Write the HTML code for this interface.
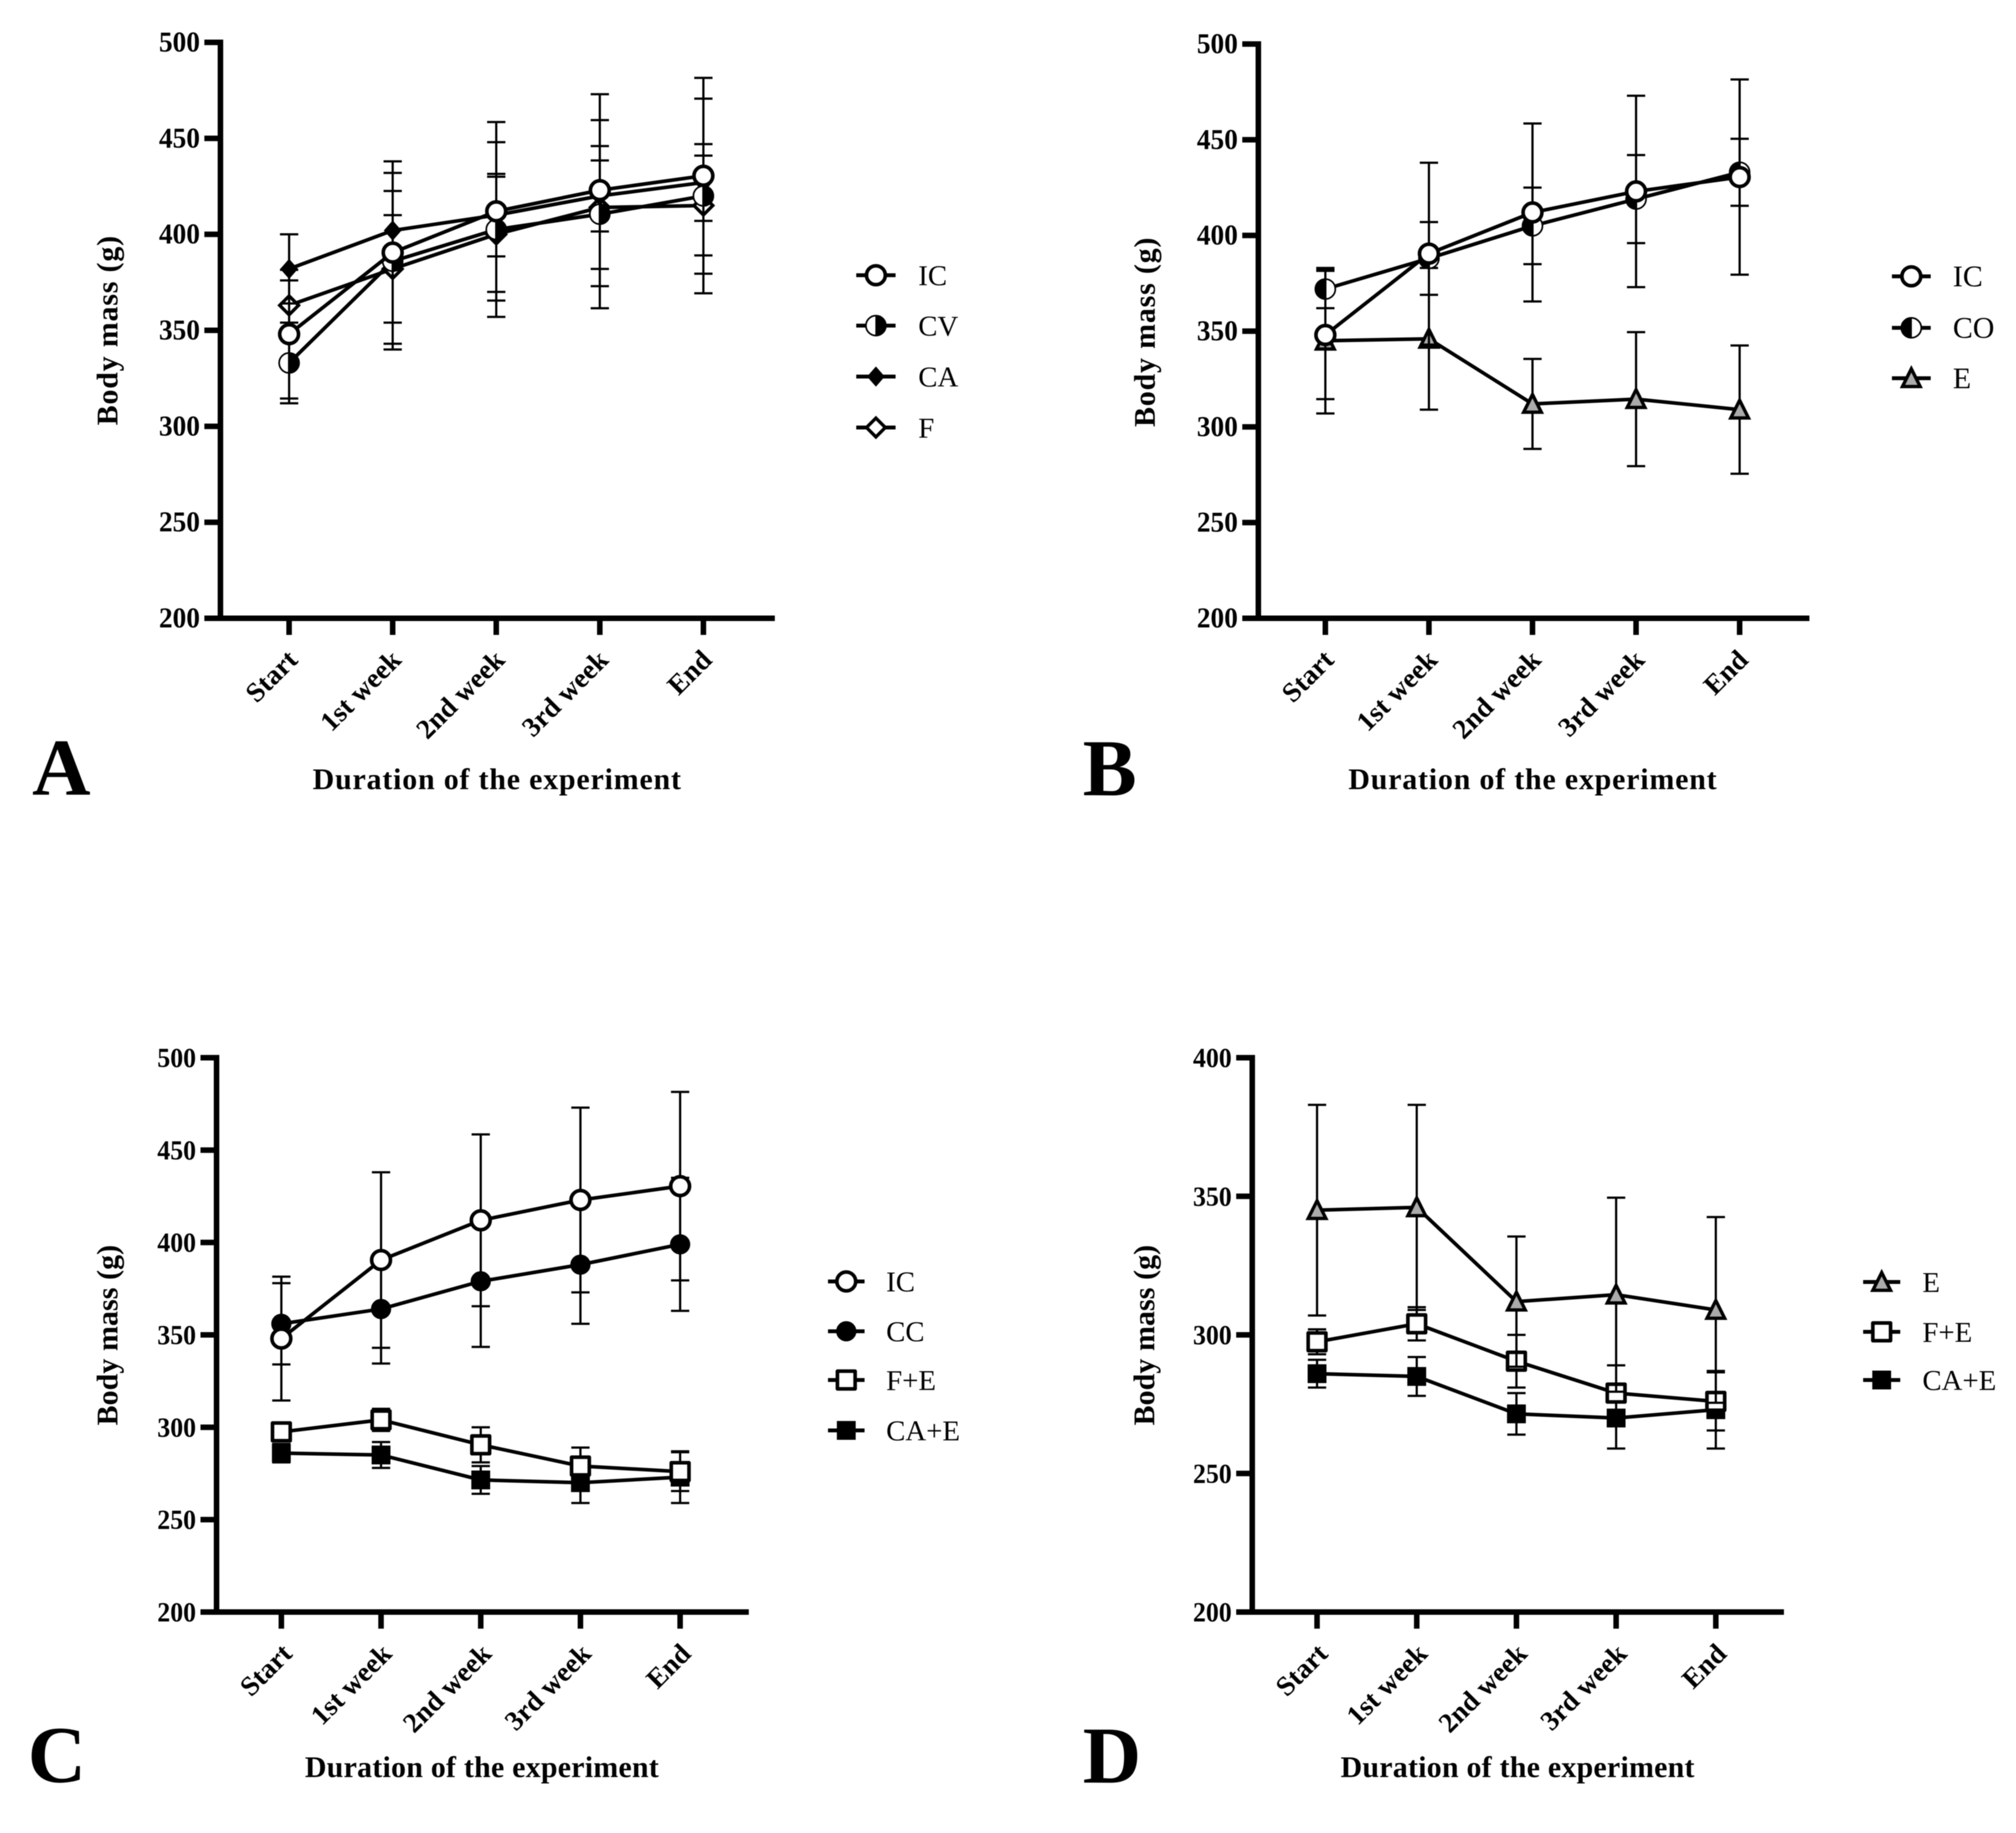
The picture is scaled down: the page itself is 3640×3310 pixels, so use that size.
<!DOCTYPE html>
<html lang="en">
<head>
<meta charset="utf-8">
<title>Body mass over the duration of the experiment</title>
<style>
html,body{margin:0;padding:0;background:#fff;width:3640px;height:3310px;overflow:hidden}
svg{display:block;font-family:"Liberation Serif","Times New Roman",serif;filter:blur(0.7px)}
</style>
</head>
<body>
<svg id="fig" xmlns="http://www.w3.org/2000/svg" width="3640" height="3310" viewBox="0 0 3640 3310"></svg>
<script>
const categories = ['Start', '1st week', '2nd week', '3rd week', 'End'];
const yTicksMain = [200, 250, 300, 350, 400, 450, 500];
const yTicksLow = [200, 250, 300, 350, 400];

const icMean = [348, 390.5, 412, 423, 430.5];
const icErr = [33.5, 47.5, 46.5, 50, 51];
const cvMean = [333, 386, 402.5, 410.5, 420];
const cvErr = [21, 46, 45.5, 49, 50.7];
const caMean = [382, 402, 410, 420, 427];
const caErr = [18, 20.6, 21.5, 18.5, 20];
const fMean = [363, 382, 400, 414, 415];
const fErr = [13, 28, 30, 32, 26];
const coMean = [372, 388, 405, 419, 433];
const coErr = [10, 19, 20, 23, 17.5];
const eMean = [345, 346, 312, 314.5, 309];
const eErr = [38, 37, 23.5, 35, 33.5];
const ccMean = [356, 364, 379, 388, 399];
const ccErr = [22, 29.5, 35.5, 32, 36];
const feMean = [297.5, 304, 290.5, 279, 276];
const feErr = [4.5, 6, 9.5, 10, 10.5];
const caeMean = [286, 285, 271.5, 270, 273];
const caeErr = [5, 7, 7.5, 11, 14];

const panels = [
  {id:'a', letter:'A', lx:58, ly:1435, left:398, right:1399, top:76.5, bottom:1116.5, first:522, step:187, xOff:18,
   ticks:yTicksMain, tickFont:52, tickW:74, titleX:897, titleW:665, titleY:1425, yTitleX:212, yTitleC:597, yTitleL:342,
   legLine:[1546,1617], legText:1658, legFont:52, legY:[497,588,680,772],
   series:[
    {name:'IC', key:'ic', mean:icMean, err:icErr, marker:'circle'},
    {name:'CV', key:'cv', mean:cvMean, err:cvErr, marker:'half-right'},
    {name:'CA', key:'ca', mean:caMean, err:caErr, marker:'diamond-fill'},
    {name:'F', key:'f', mean:fMean, err:fErr, marker:'diamond'}]},
  {id:'b', letter:'B', lx:1955, ly:1436, left:2272, right:3267, top:79.5, bottom:1116.5, first:2393, step:187, xOff:18,
   ticks:yTicksMain, tickFont:52, tickW:74, titleX:2767, titleW:665, titleY:1425, yTitleX:2085, yTitleC:600, yTitleL:342,
   legLine:[3416,3486], legText:3526, legFont:54, legY:[499,592,683],
   series:[
    {name:'IC', key:'ic', mean:icMean, err:icErr, marker:'circle'},
    {name:'CO', key:'co', mean:coMean, err:coErr, marker:'half-left'},
    {name:'E', key:'e', mean:eMean, err:eErr, marker:'triangle'}]},
  {id:'c', letter:'C', lx:50, ly:3218, left:391, right:1352, top:1910, bottom:2911, first:508, step:180, xOff:22,
   ticks:yTicksMain, tickFont:50, tickW:70, titleX:870, titleW:639, titleY:3209, yTitleX:212, yTitleC:2411, yTitleL:326,
   legLine:[1495,1561], legText:1600, legFont:52, legY:[2314,2404,2492,2583],
   series:[
    {name:'IC', key:'ic', mean:icMean, err:icErr, marker:'circle'},
    {name:'CC', key:'cc', mean:ccMean, err:ccErr, marker:'circle-fill'},
    {name:'F+E', key:'fe', mean:feMean, err:feErr, marker:'square'},
    {name:'CA+E', key:'cae', mean:caeMean, err:caeErr, marker:'square-fill'}]},
  {id:'d', letter:'D', lx:1955, ly:3219, left:2261, right:3221, top:1910, bottom:2911, first:2378, step:180, xOff:22,
   ticks:yTicksLow, tickFont:50, tickW:70, titleX:2740, titleW:639, titleY:3209, yTitleX:2084, yTitleC:2411, yTitleL:326,
   legLine:[3364,3431], legText:3471, legFont:52, legY:[2315,2405,2492],
   series:[
    {name:'E', key:'e', mean:eMean, err:eErr, marker:'triangle'},
    {name:'F+E', key:'fe', mean:feMean, err:feErr, marker:'square'},
    {name:'CA+E', key:'cae', mean:caeMean, err:caeErr, marker:'square-fill'}]}
];

const NS = 'http://www.w3.org/2000/svg';
const root = document.getElementById('fig');

function make(parent, tag, attrs, text) {
  const el = document.createElementNS(NS, tag);
  for (const k in attrs) el.setAttribute(k, attrs[k]);
  if (text !== undefined) el.textContent = text;
  parent.appendChild(el);
  return el;
}

function drawMarker(parent, kind, cx, cy, seriesName) {
  const g = make(parent, 'g', {});
  
  
  const sw = 6.5;
  if (kind === 'circle') {
    make(g, 'circle', {cx:cx, cy:cy, r:17, fill:'#fff', stroke:'#000', 'stroke-width':sw});
  } else if (kind === 'circle-fill') {
    make(g, 'circle', {cx:cx, cy:cy, r:15, fill:'#000', stroke:'#000', 'stroke-width':sw});
  } else if (kind === 'half-right' || kind === 'half-left') {
    const sweep = kind === 'half-right' ? 1 : 0;
    make(g, 'circle', {cx:cx, cy:cy, r:18, fill:'#fff', stroke:'#000', 'stroke-width':3});
    make(g, 'path', {d:'M' + cx + ' ' + (cy - 18) + 'A18 18 0 0 ' + sweep + ' ' + cx + ' ' + (cy + 18) + 'Z', fill:'#000', stroke:'#000', 'stroke-width':2});
  } else if (kind === 'diamond' || kind === 'diamond-fill') {
    const filled = kind === 'diamond-fill';
    const a = filled ? 14 : 17, b = filled ? 16 : 17;
    make(g, 'path', {d:'M' + cx + ' ' + (cy - b) + 'L' + (cx + a) + ' ' + cy + 'L' + cx + ' ' + (cy + b) + 'L' + (cx - a) + ' ' + cy + 'Z',
      fill:filled ? '#000' : '#fff', stroke:'#000', 'stroke-width':filled ? 3 : 6, 'stroke-linejoin':'miter'});
  } else if (kind === 'square') {
    make(g, 'rect', {x:cx - 16, y:cy - 16, width:32, height:32, fill:'#fff', stroke:'#000', 'stroke-width':6.5, 'stroke-linejoin':'round'});
  } else if (kind === 'square-fill') {
    make(g, 'rect', {x:cx - 17, y:cy - 17, width:34, height:34, fill:'#000'});
  } else if (kind === 'triangle') {
    make(g, 'path', {d:'M' + cx + ' ' + (cy - 17) + 'L' + (cx + 16) + ' ' + (cy + 15) + 'L' + (cx - 16) + ' ' + (cy + 15) + 'Z',
      fill:'#ababab', stroke:'#000', 'stroke-width':6, 'stroke-linejoin':'miter'});
  }
}

function drawPanel(p) {
  const panel = make(root, 'g', {});
  
  

  const domainMin = p.ticks[0];
  const domainMax = p.ticks[p.ticks.length - 1];
  const yScale = v => p.bottom - (v - domainMin) / (domainMax - domainMin) * (p.bottom - p.top);
  const xScale = i => p.first + i * p.step;

  const letter = make(panel, 'text', {x:p.lx, y:p.ly, 'font-size':146, 'font-weight':'bold', fill:'#000'}, p.letter);
  
  

  const yAxis = make(panel, 'line', {x1:p.left, x2:p.left, y1:p.top - 5, y2:p.bottom + 5, stroke:'#000', 'stroke-width':10});
  
  

  const xAxis = make(panel, 'line', {x1:p.left - 29, x2:p.right, y1:p.bottom, y2:p.bottom, stroke:'#000', 'stroke-width':10});
  
  

  p.ticks.forEach(t => {
    const y = yScale(t);
    const tick = make(panel, 'line', {x1:p.left - 29, x2:p.left, y1:y, y2:y, stroke:'#000', 'stroke-width':10});
    
    
    const label = make(panel, 'text', {x:p.left - 37, y:y + 16.5, 'font-size':p.tickFont, 'font-weight':'bold', 'text-anchor':'end', textLength:p.tickW, lengthAdjust:'spacingAndGlyphs', fill:'#000'}, String(t));
    
    
  });

  categories.forEach((c, i) => {
    const x = xScale(i);
    const tick = make(panel, 'line', {x1:x, x2:x, y1:p.bottom, y2:p.bottom + 30, stroke:'#000', 'stroke-width':10});
    
    
    const ax = x + p.xOff, ay = p.bottom + 78;
    const label = make(panel, 'text', {x:ax, y:ay, 'font-size':50, 'font-weight':'bold', 'text-anchor':'end', fill:'#000', transform:'rotate(-45 ' + ax + ' ' + ay + ')'}, c);
    
    
  });

  const xTitle = make(panel, 'text', {x:p.titleX, y:p.titleY, 'font-size':54, 'font-weight':'bold', 'text-anchor':'middle', textLength:p.titleW, lengthAdjust:'spacing', fill:'#000'}, 'Duration of the experiment');
  
  

  const yTitle = make(panel, 'text', {x:p.yTitleX, y:p.yTitleC, 'font-size':54, 'font-weight':'bold', 'text-anchor':'middle', textLength:p.yTitleL, lengthAdjust:'spacing', fill:'#000', transform:'rotate(-90 ' + p.yTitleX + ' ' + p.yTitleC + ')'}, 'Body mass (g)');
  
  

  /* first legend entry is painted last, so it sits on top */
  p.series.slice().reverse().forEach(s => {
    const group = make(panel, 'g', {});
    
    

    s.mean.forEach((m, i) => {
      const x = xScale(i);
      const yHi = yScale(m + s.err[i]);
      const yLo = yScale(m - s.err[i]);
      const bar = make(group, 'path', {d:'M' + x + ' ' + yHi + 'V' + yLo + 'M' + (x - 16.5) + ' ' + yHi + 'H' + (x + 16.5) + 'M' + (x - 16.5) + ' ' + yLo + 'H' + (x + 16.5), fill:'none', stroke:'#000', 'stroke-width':4});
      
      
    });

    const pts = s.mean.map((m, i) => xScale(i) + ',' + yScale(m)).join(' ');
    const line = make(group, 'polyline', {points:pts, fill:'none', stroke:'#000', 'stroke-width':6.5, 'stroke-linejoin':'round'});
    
    

    s.mean.forEach((m, i) => {
      drawMarker(group, s.marker, xScale(i), yScale(m), s.key);
    });
  });

  const legend = make(panel, 'g', {});
  
  
  p.series.forEach((s, i) => {
    const y = p.legY[i];
    const entry = make(legend, 'g', {});
    
    
    make(entry, 'line', {x1:p.legLine[0], x2:p.legLine[1], y1:y, y2:y, stroke:'#000', 'stroke-width':7});
    drawMarker(entry, s.marker, (p.legLine[0] + p.legLine[1]) / 2, y, 'legend-' + s.key);
    const label = make(entry, 'text', {x:p.legText, y:y + 18, 'font-size':p.legFont, fill:'#000'}, s.name);
    
    
  });
}

panels.forEach(drawPanel);
</script>
</body>
</html>
